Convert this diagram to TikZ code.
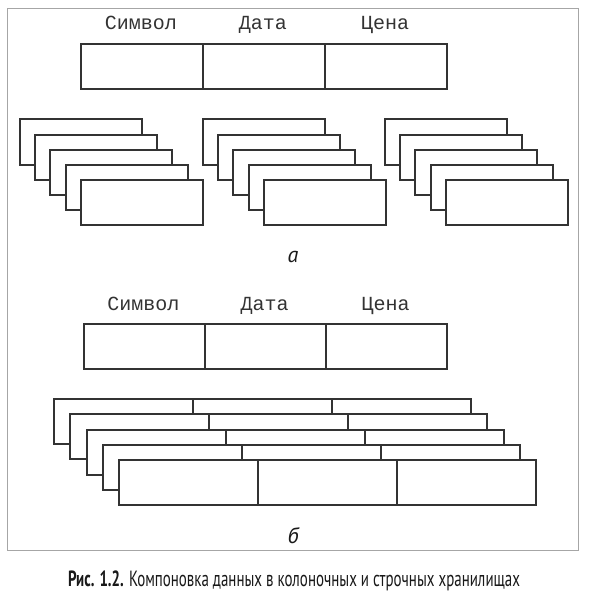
\documentclass[tikz,border=0pt]{standalone}
\usepackage{graphicx}
\usepackage{fontspec}
\setmainfont{PT Sans}
\newfontfamily\monofont{Liberation Mono}
\begin{document}
\begin{tikzpicture}[x=1pt,y=-1pt,
  cell/.style={draw=black!80, line width=2pt, fill=white, inner sep=0pt, minimum height=45pt, anchor=north west},
  ccell/.style={cell, minimum width=122pt},
  rcell/.style={cell, minimum width=139pt},
  lbl/.style={font=\monofont\fontsize{20}{24}\selectfont, anchor=base, text=black!80},
  sublbl/.style={font=\itshape\fontsize{22}{26}\selectfont, anchor=base, text=black!90},
  framebox/.style={draw=black!35, line width=1pt}]
\useasboundingbox[fill=white] (0,0) rectangle (590,607);
\draw[framebox] (7.5,9) rectangle (578,550);

% --- part a: header row
\node[ccell] (ta1) at (80,43) {};
\node[ccell] (ta2) at (202,43) {};
\node[ccell] (ta3) at (324,43) {};
\node[lbl] (la1) at (141,30) {Символ};
\node[lbl] (la2) at (263,30) {Дата};
\node[lbl] (la3) at (385,30) {Цена};

% --- part a: column stacks
\foreach \s/\fx in {1/80,2/263,3/445}{
  \foreach \k in {4,3,2,1,0}{
    \node[ccell] (c\s\k) at ({\fx-15.3*\k},{179.3-15.2*\k}) {};
  }
}
\node[sublbl] (suba) at (293,262) {а};

% --- part b: header row
\node[ccell, minimum width=121pt] (tb1) at (83,323) {};
\node[ccell, minimum width=121pt] (tb2) at (204,323) {};
\node[ccell, minimum width=121pt] (tb3) at (325,323) {};
\node[lbl] (lb1) at (143.5,310.5) {Символ};
\node[lbl] (lb2) at (264.5,310.5) {Дата};
\node[lbl] (lb3) at (385.5,310.5) {Цена};

% --- part b: row stacks
\foreach \k in {4,3,2,1,0}{
  \foreach \j in {0,1,2}{
    \node[rcell] (r\k\j) at ({118-16.2*\k+139*\j},{459-15.2*\k}) {};
  }
}
\node[sublbl] (subb) at (293,543) {б};

% --- caption
\node[anchor=base, text=black!90] (cap) at (294,586)
  {\resizebox{452pt}{\height}{\fontsize{22}{26}\selectfont\textbf{Рис. 1.2.} Компоновка данных в колоночных и строчных хранилищах}};
\end{tikzpicture}
\end{document}
